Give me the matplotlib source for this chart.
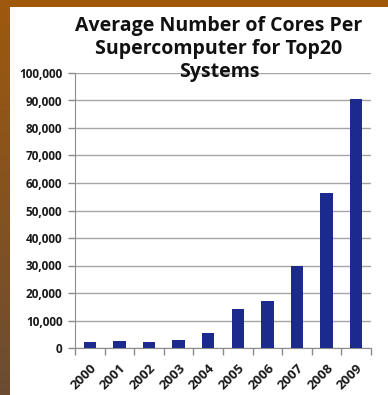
import numpy as np
import matplotlib
matplotlib.use("Agg")
import matplotlib.pyplot as plt
from matplotlib.ticker import FuncFormatter

years = ["2000", "2001", "2002", "2003", "2004", "2005", "2006", "2007", "2008", "2009"]
avg_cores = [2100, 2500, 2200, 2800, 5600, 14100, 17000, 29800, 56400, 90400]
y_ticks = list(range(0, 100001, 10000))

plt.rcParams['font.family'] = ['Open Sans', 'DejaVu Sans']

fig = plt.figure(figsize=(3.88, 3.95), dpi=100)
fig.patch.set_facecolor("white")

# brown slide frame: top band and left gradient strip
top = fig.add_axes([0, 1 - 7 / 395, 1, 7 / 395])
top.imshow(np.array([[[0.63, 0.35, 0.04]]]), aspect="auto", extent=[0, 1, 0, 1])
top.axis("off")

left = fig.add_axes([0, 0, 10 / 388, 1])
t = np.linspace(0, 1, 200)[:, None]
c0 = np.array([0.62, 0.35, 0.05])
c1 = np.array([0.42, 0.30, 0.20])
grad = (c0 * (1 - t) + c1 * t)[:, None, :]
left.imshow(grad, aspect="auto", extent=[0, 1, 0, 1])
left.axis("off")

ax = fig.add_axes([75 / 388, 47 / 395, 296 / 388, 275 / 395])
x = np.arange(len(years))
ax.bar(x, avg_cores, width=0.42, color="#1b2a8c", zorder=3)

ax.set_xlim(-0.5, len(years) - 0.5)
ax.set_ylim(0, 100000)
ax.set_yticks(y_ticks)
ax.yaxis.set_major_formatter(FuncFormatter(lambda v, p: f"{int(v):,}"))
ax.yaxis.grid(True, color="#a6a6a6", linewidth=1.0, zorder=0)

ax.set_xticks(x)
ax.set_xticklabels(years, rotation=45, ha="right", rotation_mode="anchor",
                   fontsize=9.5, fontweight="bold", color="#1a1a1a")
ax.set_xticks(np.arange(-0.5, len(years)), minor=True)
ax.tick_params(axis="x", which="major", length=0, pad=10)
ax.tick_params(axis="x", which="minor", length=5, color="#8c8c8c", width=1)
ax.tick_params(axis="y", length=5, color="#8c8c8c", width=1, pad=4,
               labelsize=8.5, labelcolor="#1a1a1a")
for lbl in ax.get_yticklabels():
    lbl.set_fontweight("bold")

for s in ["top", "right"]:
    ax.spines[s].set_visible(False)
ax.spines["left"].set_color("#8c8c8c")
ax.spines["bottom"].set_color("#8c8c8c")

fig.text(219 / 388, 1 - 49 / 395,
         "Average Number of Cores Per\nSupercomputer for Top20\nSystems",
         ha="center", va="center", fontsize=14, fontweight="bold",
         color="#111111", linespacing=1.22, zorder=5)

fig.savefig("out.png", dpi=100, facecolor=fig.get_facecolor())
